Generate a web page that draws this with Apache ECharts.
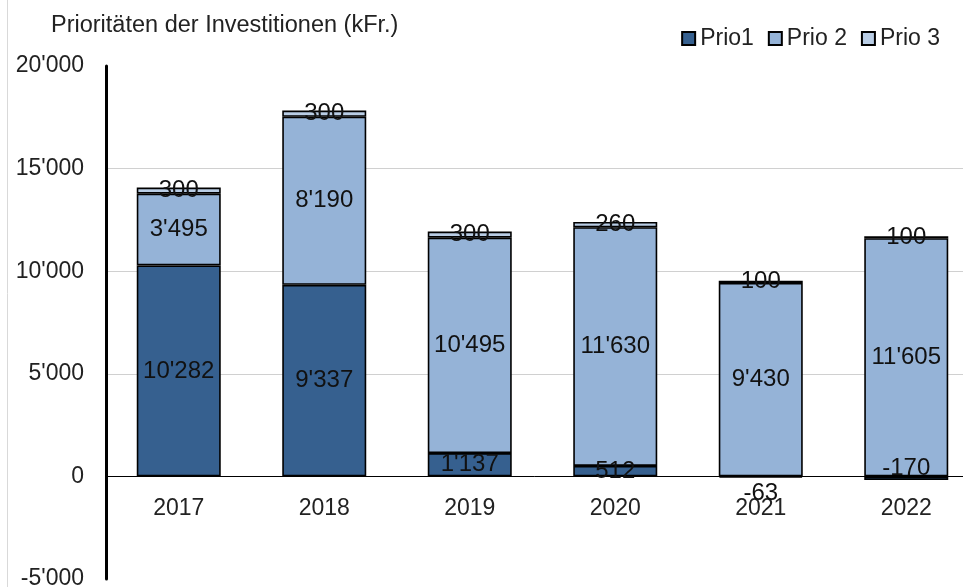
<!DOCTYPE html>
<html>
<head>
<meta charset="utf-8">
<script src="https://cdn.jsdelivr.net/npm/echarts@6/dist/echarts.min.js"></script>
<style>
  html, body { margin: 0; padding: 0; background: #fff; }
  #chart { width: 963px; height: 587px; }
</style>
</head>
<body>
<div id="chart"></div>
<script>
// Daten
var years = ['2017', '2018', '2019', '2020', '2021', '2022'];
var prio1 = [10282, 9337, 1137, 512, -63, -170];
var prio2 = [3495, 8190, 10495, 11630, 9430, 11605];
var prio3 = [300, 300, 300, 260, 100, 100];
var seriesNames = ['Prio1', 'Prio 2', 'Prio 3'];
var yMin = -5000, yMax = 20000, yStep = 5000;

function fmt(v) {
  return String(v).replace(/\B(?=(\d{3})+(?!\d))/g, "'");
}

var font = '"Liberation Sans", Arial, sans-serif';
var myChart = echarts.init(document.getElementById('chart'));

var gridTop = 66, gridHeight = 513;
// x-Achse liegt bei 0: Abstand vom unteren Rand
var zeroOffset = gridHeight * (0 - yMin) / (yMax - yMin);

function makeSeries(name, values, color) {
  return {
    name: name,
    type: 'bar',
    stack: 'total',
    barWidth: 84,
    itemStyle: { color: color, borderColor: '#000', borderWidth: 1.6 },
    label: {
      show: true,
      position: 'inside',
      color: '#111',
      fontSize: 24,
      fontFamily: font,
      formatter: function (p) { return fmt(p.value); }
    },
    data: values
  };
}

// kleine negative Werte: Label wie im Original versetzt
var p1data = prio1.map(function (v, i) {
  if (i === 4) return { value: v, label: { offset: [0, 16] } };
  if (i === 5) return { value: v, label: { offset: [0, -10] } };
  return v;
});

var option = {
  animation: false,
  textStyle: { fontFamily: font },
  title: {
    text: 'Prioritäten der Investitionen (kFr.)',
    left: 46,
    top: 9,
    textStyle: { color: '#222', fontSize: 23.5, fontWeight: 'normal', fontFamily: font }
  },
  legend: {
    right: 18,
    top: 22,
    icon: 'rect',
    itemWidth: 13,
    itemHeight: 13,
    itemGap: 14,
    itemStyle: { borderColor: '#000', borderWidth: 2 },
    textStyle: { color: '#222', fontSize: 23, fontFamily: font },
    data: seriesNames
  },
  grid: {
    left: 106, top: gridTop, width: 873, height: gridHeight,
    containLabel: false, outerBoundsMode: 'none'
  },
  xAxis: {
    type: 'category',
    data: years,
    offset: -zeroOffset,
    axisLine: { onZero: false, lineStyle: { color: '#000', width: 1 } },
    axisTick: { show: false },
    axisLabel: { color: '#222', fontSize: 23, margin: 21, fontFamily: font }
  },
  yAxis: {
    type: 'value',
    min: yMin,
    max: yMax,
    interval: yStep,
    axisLine: { show: true, lineStyle: { color: '#000', width: 3 } },
    axisTick: { show: false },
    axisLabel: {
      color: '#222',
      fontSize: 23,
      margin: 22,
      fontFamily: font,
      formatter: fmt
    },
    splitLine: {
      show: true,
      lineStyle: {
        color: ['rgba(0,0,0,0)', 'rgba(0,0,0,0)', '#d0d0d0', '#d0d0d0', '#d0d0d0', 'rgba(0,0,0,0)']
      }
    }
  },
  graphic: [{
    type: 'line',
    shape: { x1: 7.5, y1: 0, x2: 7.5, y2: 587 },
    style: { stroke: '#d9d9d9', lineWidth: 1 }
  }],
  series: [
    makeSeries(seriesNames[0], p1data, '#36608f'),
    makeSeries(seriesNames[1], prio2, '#95b3d7'),
    makeSeries(seriesNames[2], prio3, '#b9cde5')
  ]
};

myChart.setOption(option);
window.addEventListener('resize', function () {
  myChart.resize();
});
</script>
</body>
</html>
